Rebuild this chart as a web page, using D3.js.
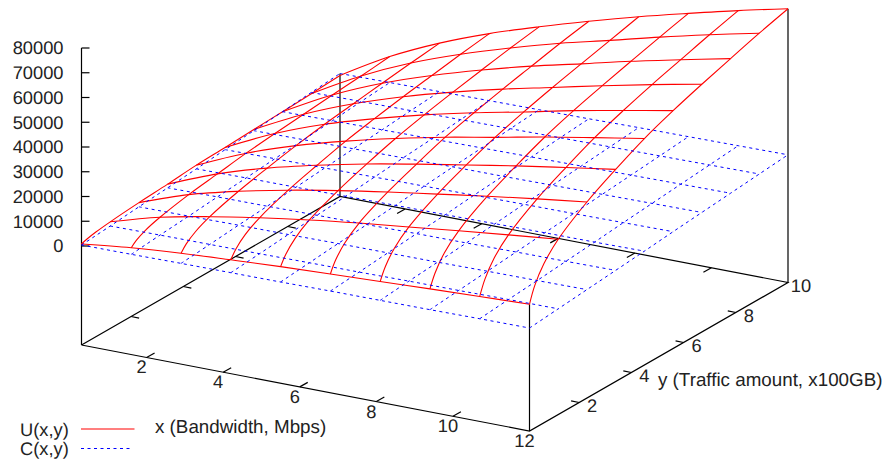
<!DOCTYPE html>
<html>
<head>
<meta charset="utf-8">
<script src="https://cdn.jsdelivr.net/npm/d3@7"></script>
<style>
html, body { margin: 0; padding: 0; background: #fff; }
svg { display: block; }
text { font-family: "Liberation Sans", Arial, sans-serif; font-size: 18.3px; fill: #222; text-rendering: geometricPrecision; }
text.title { font-size: 18.8px; }
</style>
</head>
<body>
<svg id="plot" width="887" height="459"></svg>
<script>
// isolines of the two surfaces
var xValues = [0.3, 1.6, 2.9, 4.2, 5.5, 6.8, 8.1, 9.4, 10.7, 12];
var yValues = [0.1, 1.2, 2.3, 3.4, 4.5, 5.6, 6.7, 7.8, 8.9, 10];

// U(x,y), one row per y value
var uRows = [
	[800, 3150, 4800, 6000, 7100, 8000, 8800, 9700, 10500, 11200],
	[3100, 8800, 12900, 16300, 19300, 21900, 24200, 26500, 28700, 30800],
	[4200, 11300, 16500, 20800, 24500, 27800, 30800, 33800, 36600, 39200],
	[5000, 13000, 19200, 24200, 28600, 32400, 35900, 39400, 42600, 45700],
	[6000, 14700, 21600, 27300, 32200, 36600, 40400, 44400, 48000, 51500],
	[6500, 16000, 23600, 29700, 35100, 39800, 44000, 48400, 52300, 56100],
	[7100, 17100, 25200, 31900, 37600, 42700, 47200, 51800, 56100, 60100],
	[7600, 18200, 26800, 33800, 39900, 45300, 50100, 55000, 59500, 63800],
	[8200, 19200, 28300, 35700, 42100, 47900, 52900, 58100, 62900, 67400],
	[8900, 20400, 29700, 37400, 44000, 50100, 55800, 61000, 66000, 70600]
];

// extra readings between the first two rows, the surface bends hard there
var yNear = [0.3, 0.65];
var uNear = [
	[1500, 5000, 7350, 9300, 10900, 12400, 13700, 15000, 16300, 17500],
	[2300, 6950, 10150, 12850, 15100, 17200, 19000, 20900, 22600, 24200]
];

// C(x,y)
var cRows = [
	[400, 500, 700, 800, 900, 1100, 1200, 1300, 1500, 1600],
	[1400, 1600, 1700, 1800, 2000, 2100, 2300, 2400, 2600, 2700],
	[2500, 2600, 2800, 2900, 3100, 3200, 3300, 3500, 3600, 3800],
	[3500, 3700, 3800, 4000, 4100, 4300, 4400, 4600, 4700, 4900],
	[4500, 4700, 4800, 5000, 5200, 5300, 5500, 5700, 5800, 6000],
	[5600, 5800, 5900, 6100, 6300, 6500, 6700, 6800, 7000, 7200],
	[6600, 6800, 7000, 7200, 7400, 7500, 7700, 7900, 8100, 8300],
	[7600, 7800, 8000, 8200, 8400, 8600, 8800, 9000, 9200, 9400],
	[8700, 8900, 9100, 9300, 9500, 9700, 9900, 10100, 10300, 10500],
	[9700, 9900, 10100, 10300, 10500, 10700, 11000, 11200, 11400, 11600]
];

var xTicks = [2, 4, 6, 8, 10, 12];
var yTicks = [2, 4, 6, 8, 10];
var zTicks = [0, 10000, 20000, 30000, 40000, 50000, 60000, 70000, 80000];
var zBase = -40000;
var xMin = 0.3, xMax = 12, yMin = 0.1, yMax = 10;

var svg = d3.select('#plot');

// the view is a parallel projection, so every data axis adds its own screen offset
var xToLeft = d3.scaleLinear().domain([xMin, xMax]).range([0, 448]);
var xToTop = d3.scaleLinear().domain([xMin, xMax]).range([0, 86]);
var yToLeft = d3.scaleLinear().domain([yMin, yMax]).range([0, 258.5]);
var yToTop = d3.scaleLinear().domain([yMin, yMax]).range([0, -148.5]);
var zToTop = d3.scaleLinear().domain([0, 80000]).range([246, 48]);

function project(x, y, z){
	return [81.5 + xToLeft(x) + yToLeft(y), zToTop(z) + xToTop(x) + yToTop(y)];
}

var line = d3.line().curve(d3.curveCatmullRom.alpha(0.5));
var straight = d3.line();

function drawSeg(points){
	svg.append('path')
		.attr("d", straight(points))
		.attr("fill", "none")
		.attr("stroke", "#000")
		.attr("stroke-width", 1.2);
}

function tick(x, y, z, dx, dy){
	var p = project(x, y, z);
	drawSeg([p, [p[0] + dx, p[1] + dy]]);
}

// box
var a = project(xMin, yMin, zBase), b = project(xMax, yMin, zBase);
var c = project(xMax, yMax, zBase), d = project(xMin, yMax, zBase);
drawSeg([a, b, c, d, a]);
drawSeg([a, project(xMin, yMin, 80000)]);
drawSeg([b, project(xMax, yMin, uRows[0][9])]);
drawSeg([c, project(xMax, yMax, uRows[9][9])]);
drawSeg([d, project(xMin, yMax, cRows[9][0])]);

// z ticks
zTicks.forEach(function(z){
	tick(xMin, yMin, z, 8, 0);
	svg.append('text')
		.attr("x", 63.5)
		.attr("y", zToTop(z))
		.attr("dy", "0.35em")
		.attr("text-anchor", "end")
		.text(z);
});

// x ticks, mirrored on the back edge
xTicks.forEach(function(x){
	if(x < xMax){
		tick(x, yMin, zBase, 8, -4.5);
		tick(x, yMax, zBase, -8, 4.5);
	}
	var p = project(x, yMin, zBase);
	svg.append('text')
		.attr("x", p[0] - 5)
		.attr("y", p[1] + 9.5)
		.attr("dy", "0.35em")
		.attr("text-anchor", "middle")
		.text(x);
});

// y ticks, mirrored on the left edge
yTicks.forEach(function(y){
	if(y < yMax){
		tick(xMax, y, zBase, -8, -1.6);
		tick(xMin, y, zBase, 8, 1.6);
	}
	var p = project(xMax, y, zBase);
	svg.append('text')
		.attr("x", p[0] + 13)
		.attr("y", p[1] + 3)
		.attr("dy", "0.35em")
		.attr("text-anchor", "middle")
		.text(y);
});

// the two surfaces as wire meshes
function drawMesh(ys, rows, fineYs, color, dash, width){
	var g = svg.append('g')
		.attr("fill", "none")
		.attr("stroke", color)
		.attr("stroke-width", width)
		.attr("stroke-dasharray", dash);
	ys.forEach(function(y, j){
		var pts = xValues.map(function(x, i){ return project(x, y, rows[j][i]); });
		g.append('path').attr("d", line(pts));
	});
	xValues.forEach(function(x, i){
		var pts = fineYs.map(function(r){ return project(x, r.y, r.row[i]); });
		g.append('path').attr("d", line(pts));
	});
}

var uFine = yValues.map(function(y, j){ return {y: y, row: uRows[j]}; });
yNear.forEach(function(y, j){ uFine.push({y: y, row: uNear[j]}); });
uFine.sort(function(p, q){ return p.y - q.y; });
var cFine = yValues.map(function(y, j){ return {y: y, row: cRows[j]}; });

drawMesh(yValues, uRows, uFine, "#ff0000", null, 1.1);
drawMesh(yValues, cRows, cFine, "#0000ff", "3,3.5", 1);

// titles
svg.append('text').attr("class", "title").attr("x", 155).attr("y", 426.5).attr("dy", "0.35em").text("x (Bandwidth, Mbps)");
svg.append('text').attr("class", "title").attr("x", 658).attr("y", 379).attr("dy", "0.35em").text("y (Traffic amount, x100GB)");

// key
svg.append('text').attr("x", 20).attr("y", 430).attr("dy", "0.35em").text("U(x,y)");
svg.append('text').attr("x", 20).attr("y", 449).attr("dy", "0.35em").text("C(x,y)");
svg.append('line').attr("x1", 81).attr("x2", 134.5).attr("y1", 429).attr("y2", 429)
	.attr("stroke", "#ff0000").attr("stroke-width", 1.1);
svg.append('line').attr("x1", 81).attr("x2", 132).attr("y1", 448.5).attr("y2", 448.5)
	.attr("stroke", "#0000ff").attr("stroke-width", 1).attr("stroke-dasharray", "3,3.5");
</script>
</body>
</html>
